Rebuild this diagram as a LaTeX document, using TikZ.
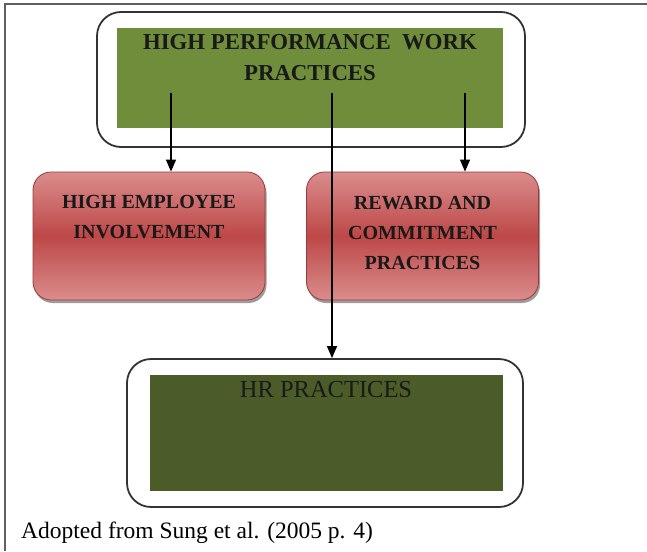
\documentclass[tikz,border=0pt]{standalone}
\usepackage{fontspec}
\setmainfont{Liberation Serif}
\usetikzlibrary{arrows.meta,positioning,calc,shadows}
\definecolor{cPerf}{RGB}{111,141,58}
\definecolor{cHR}{RGB}{76,92,40}
\definecolor{cInv}{RGB}{190,72,72}
\definecolor{cInvLt}{RGB}{218,140,140}
\definecolor{cFrame}{RGB}{95,95,95}

\begin{document}
\begin{tikzpicture}[x=1pt,y=-1pt,>={Triangle[length=12pt,width=10pt]},
  outer/.style={draw=black!80,line width=1.8pt,rounded corners=24pt,fill=white},
  panel/.style={inner sep=0pt,draw=none},
  redbox/.style={draw=cInv!80!black,line width=0.8pt,rounded corners=18pt,
    top color=cInvLt,bottom color=cInvLt,middle color=cInv,
    drop shadow={shadow xshift=1.5pt,shadow yshift=-3pt,opacity=0.55,fill=black!70},
    minimum width=232pt,minimum height=128pt},
  lab/.style={font=\fontsize{20}{30}\selectfont\bfseries,align=center,text=black!90},
  link/.style={->,line width=1.3pt,black}]
  \useasboundingbox (0,0) rectangle (647,551);
  % page rule (top and left only)
  \draw[cFrame,line width=2pt] (4.5,551) -- (4.5,4.5) -- (647,4.5);
  % top block
  \node[outer,minimum width=428pt,minimum height=135pt] (hpwpout) at (311,79.5) {};
  \node[panel,fill=cPerf,minimum width=386pt,minimum height=100pt] (hpwp) at (310,78) {};
  \node[lab,font=\fontsize{22.8}{31}\selectfont\bfseries] (hpwptxt) at (310,58)
       {HIGH PERFORMANCE\ \ WORK\\PRACTICES};
  % the two practice boxes
  \node[redbox] (hei) at (149,236) {};
  \node[lab] at (149,217.5) {HIGH EMPLOYEE\\INVOLVEMENT};
  \node[redbox] (rcp) at (422.5,236) {};
  \node[lab] at (422.5,233) {REWARD AND\\COMMITMENT\\PRACTICES};
  % bottom block
  \node[outer,minimum width=396pt,minimum height=148pt] (hrout) at (325,433) {};
  \node[panel,fill=cHR,minimum width=353pt,minimum height=116pt] (hr) at (326.5,433) {};
  \node[font=\fontsize{24.5}{28}\selectfont,text=black!90] (hrtxt) at (326,390) {HR PRACTICES};
  % arrows out of the top panel
  \coordinate (tapL) at (171,93);
  \coordinate (tapM) at (332,93);
  \coordinate (tapR) at (465,93);
  \draw[link] (tapL) -- (tapL |- hei.north);
  \draw[link] (tapR) -- (tapR |- rcp.north);
  \draw[link] (tapM) -- (tapM |- hrout.north);
  % source line
  \node[anchor=base west,font=\fontsize{23.5}{28}\selectfont,inner sep=0pt] (src) at (21,538)
       {Adopted from Sung et al. (2005 p. 4)};
\end{tikzpicture}
\end{document}
